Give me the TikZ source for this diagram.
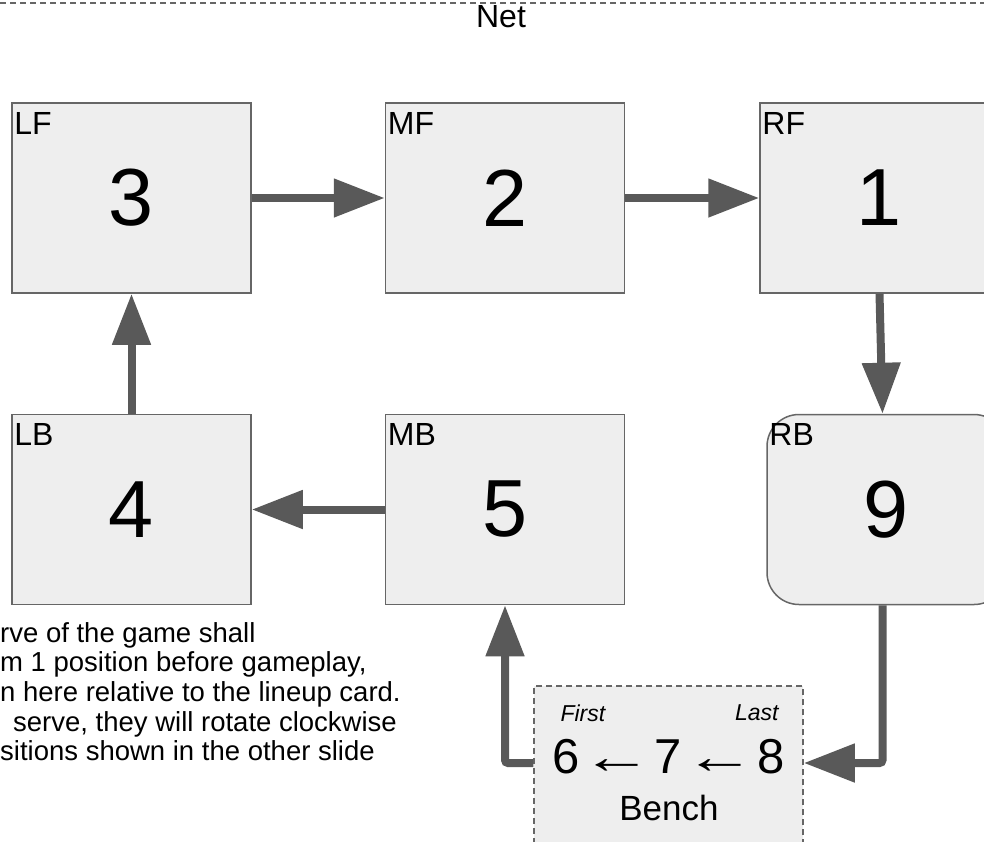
\documentclass[tikz,border=0pt]{standalone}
\usepackage{fontspec}
\setmainfont{Liberation Sans}
\usetikzlibrary{arrows.meta,positioning}
\definecolor{boxfill}{HTML}{EEEEEE}
\definecolor{boxline}{HTML}{666666}
\definecolor{arrowgray}{HTML}{595959}
\tikzset{
  >={Triangle[length=51pt,width=37pt]},
  posbox/.style={draw=boxline,fill=boxfill,line width=1.5pt,minimum width=239pt,minimum height=190pt,inner sep=0pt,font=\fontsize{81}{81}\selectfont},
  poslabel/.style={label={[anchor=north west,inner sep=0pt,xshift=3pt,yshift=-10pt,font=\fontsize{32}{32}\selectfont]north west:#1}},
  benchbox/.style={draw=boxline,fill=boxfill,line width=1.5pt,dash pattern=on 6pt off 4pt,minimum width=269pt,minimum height=170pt},
  arrow/.style={->,draw=arrowgray,line width=8pt},
}
\newcommand{\backarrow}{\hspace{2pt}\scalebox{1.45}[1]{←}\hspace{2pt}}
\begin{document}
\begin{tikzpicture}[x=1pt,y=-1pt]
  \useasboundingbox (0,0) rectangle (984,841);
  \clip (0,0) rectangle (984,841);
  % net
  \coordinate (netl) at (0,3);
  \coordinate (netr) at (984,3);
  \draw[boxline,line width=1.5pt,dash pattern=on 6pt off 4pt] (netl) -- (netr);
  \node[font=\fontsize{32}{32}\selectfont] (net) at (501,16.5) {Net};
  % front row
  \node[posbox,poslabel=LF] (lf) at (131.5,198) {3};
  \node[posbox,poslabel=MF,right=133pt of lf] (mf) {2};
  \node[posbox,poslabel=RF,right=134pt of mf] (rf) {1};
  % back row
  \node[posbox,poslabel=LB,below=120pt of lf] (lb) {4};
  \node[posbox,poslabel=MB,below=120pt of mf] (mb) {5};
  \node[posbox,poslabel=RB,rounded corners=32pt,right=141pt of mb] (rb) {9};
  % bench
  \node[benchbox] (bench) at (668.5,771) {};
  \node[font=\fontsize{23}{23}\selectfont\itshape,anchor=west] (first) at (557,713) {First};
  \node[font=\fontsize{23}{23}\selectfont\itshape,anchor=east] (last) at (782,713) {Last};
  \node[font=\fontsize{49}{49}\selectfont] (queue) at (668.5,757) {6\backarrow 7\backarrow 8};
  \node[font=\fontsize{35}{35}\selectfont] (benchname) at (669,808) {Bench};
  % note
  \node[anchor=north west,inner sep=0pt,align=left,font=\fontsize{27.5}{29.7}\selectfont] (note) at (0,622) {rve of the game shall\\m 1 position before gameplay,\\n here relative to the lineup card.\\\hspace*{13pt}serve, they will rotate clockwise\\sitions shown in the other slide};
  % rotation
  \draw[arrow] (lf) -- (mf);
  \draw[arrow] (mf) -- (rf);
  \draw[arrow] (rf.south) -- ([xshift=-4pt]rb.north);
  \draw[arrow,rounded corners=3pt] ([xshift=-4pt]rb.south) |- ([yshift=8pt]bench.east);
  \draw[arrow,rounded corners=3pt] ([yshift=8pt]bench.west) -| (mb.south);
  \draw[arrow] (mb) -- (lb);
  \draw[arrow] (lb) -- (lf);
\end{tikzpicture}
\end{document}
